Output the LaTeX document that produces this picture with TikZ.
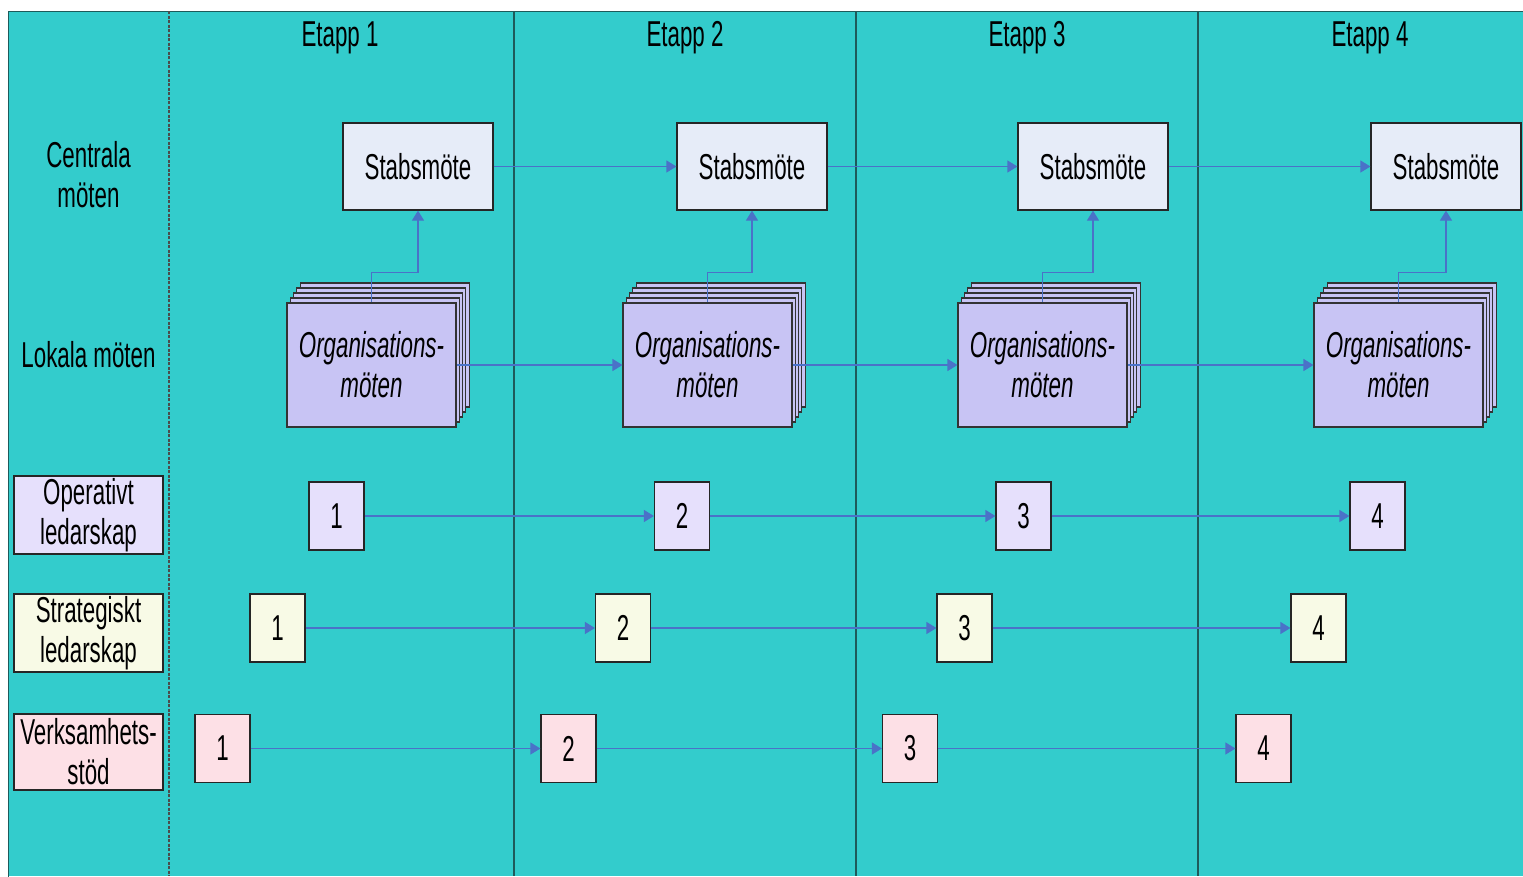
\documentclass[tikz,border=0pt]{standalone}
\usepackage{fontspec}
\setmainfont{Liberation Sans}[FakeStretch=0.62]
\usetikzlibrary{arrows.meta}
\definecolor{teal1}{HTML}{33CCCC}
\definecolor{frame1}{HTML}{1E5A5A}
\definecolor{stabfill}{HTML}{E6ECF8}
\definecolor{orgfill}{HTML}{C8C4F4}
\definecolor{opfill}{HTML}{E6E0FC}
\definecolor{strfill}{HTML}{F8FAE6}
\definecolor{verfill}{HTML}{FDE0E6}
\definecolor{arr}{HTML}{4A72C8}
\tikzset{
  txt/.style={font=\fontsize{36}{40}\selectfont, align=center, inner sep=0pt},
  box/.style={txt, draw=black!85, line width=1.2pt, minimum width=#1},
  stab/.style={box=150pt, fill=stabfill, minimum height=87pt},
  org/.style={draw=black!80, line width=1.1pt, fill=orgfill, minimum width=169pt, minimum height=124pt, inner sep=0pt},
  orgtxt/.style={org, txt, font=\fontsize{36}{40}\selectfont\itshape},
  nbox/.style={box=55pt, minimum height=68pt},
  lbl/.style={box=149pt, minimum height=78pt},
  conn/.style={draw=arr, line width=1.2pt, -{Triangle[length=10pt,width=12pt]}},
  sep/.style={draw=frame1, line width=1.1pt}
}
\begin{document}
\begin{tikzpicture}[x=1pt,y=-1pt]
\useasboundingbox[fill=white] (0,0) rectangle (1523,876);
\fill[teal1] (8,11) rectangle (1523,876);
\draw[frame1, line width=1.3pt] (8.5,880) -- (8.5,11.5) -- (1525,11.5);
% separators
\coordinate (s0t) at (169,11); \coordinate (s0b) at (169,876);
\coordinate (s1t) at (514,11); \coordinate (s1b) at (514,876);
\coordinate (s2t) at (856,11); \coordinate (s2b) at (856,876);
\coordinate (s3t) at (1198,11); \coordinate (s3b) at (1198,876);
\draw[black!70, line width=1.1pt, dash pattern=on 3pt off 1.5pt] (s0t) -- (s0b);
\draw[sep] (s1t) -- (s1b);
\draw[sep] (s2t) -- (s2b);
\draw[sep] (s3t) -- (s3b);
% headers
\node[txt] (e1) at (340,38) {Etapp 1};
\node[txt] (e2) at (685,38) {Etapp 2};
\node[txt] (e3) at (1027,38) {Etapp 3};
\node[txt] (e4) at (1370,38) {Etapp 4};
% row labels
\node[txt] (lc) at (88.5,175) {Centrala\\möten};
\node[txt] (ll) at (88.5,355) {Lokala möten};
\node[lbl, fill=opfill] (lo) at (88.5,515) {Operativt\\ledarskap};
\node[lbl, fill=strfill] (ls) at (88.5,633) {Strategiskt\\ledarskap};
\node[lbl, fill=verfill, minimum height=76pt] (lv) at (88.5,752) {Verksamhets-\\stöd};
% Stabsmöte
\node[stab] (s1) at (418,166.5) {Stabsmöte};
\node[stab] (s2) at (752,166.5) {Stabsmöte};
\node[stab] (s3) at (1093,166.5) {Stabsmöte};
\node[stab] (s4) at (1446,166.5) {Stabsmöte};
% organisation stacks
\foreach \i/\x in {1/371.5,2/707.5,3/1042.5,4/1398.5}{
  \foreach \k in {4,3,2,1}{
    \node[org] (o\i l\k) at ({\x+3.3*\k},{365-5*\k}) {};
  }
}
\node[orgtxt] (o1) at (371.5,365) {Organisations-\\möten};
\node[orgtxt] (o2) at (707.5,365) {Organisations-\\möten};
\node[orgtxt] (o3) at (1042.5,365) {Organisations-\\möten};
\node[orgtxt] (o4) at (1398.5,365) {Organisations-\\möten};
% numbered boxes
\node[nbox, fill=opfill] (op1) at (336.5,516) {1};
\node[nbox, fill=opfill] (op2) at (682,516) {2};
\node[nbox, fill=opfill] (op3) at (1023.5,516) {3};
\node[nbox, fill=opfill] (op4) at (1377.5,516) {4};
\node[nbox, fill=strfill] (st1) at (277.5,628) {1};
\node[nbox, fill=strfill] (st2) at (623,628) {2};
\node[nbox, fill=strfill] (st3) at (964.5,628) {3};
\node[nbox, fill=strfill] (st4) at (1318.5,628) {4};
\node[nbox, fill=verfill] (ve1) at (222.5,748.5) {1};
\node[nbox, fill=verfill] (ve2) at (568.5,748.5) {2};
\node[nbox, fill=verfill] (ve3) at (910,748.5) {3};
\node[nbox, fill=verfill] (ve4) at (1263.5,748.5) {4};
% connectors
\foreach \a/\b in {1/2,2/3,3/4}{
  \draw[conn] (s\a.east) -- (s\b.west);
  \draw[conn] (o\a.east) -- (o\b.west);
  \draw[conn] (op\a.east) -- (op\b.west);
  \draw[conn] (st\a.east) -- (st\b.west);
  \draw[conn] (ve\a.east) -- (ve\b.west);
}
\foreach \i in {1,2,3,4}{
  \draw[conn] (o\i.north) -- ++(0,-30) -| (s\i.south);
}
\end{tikzpicture}
\end{document}
